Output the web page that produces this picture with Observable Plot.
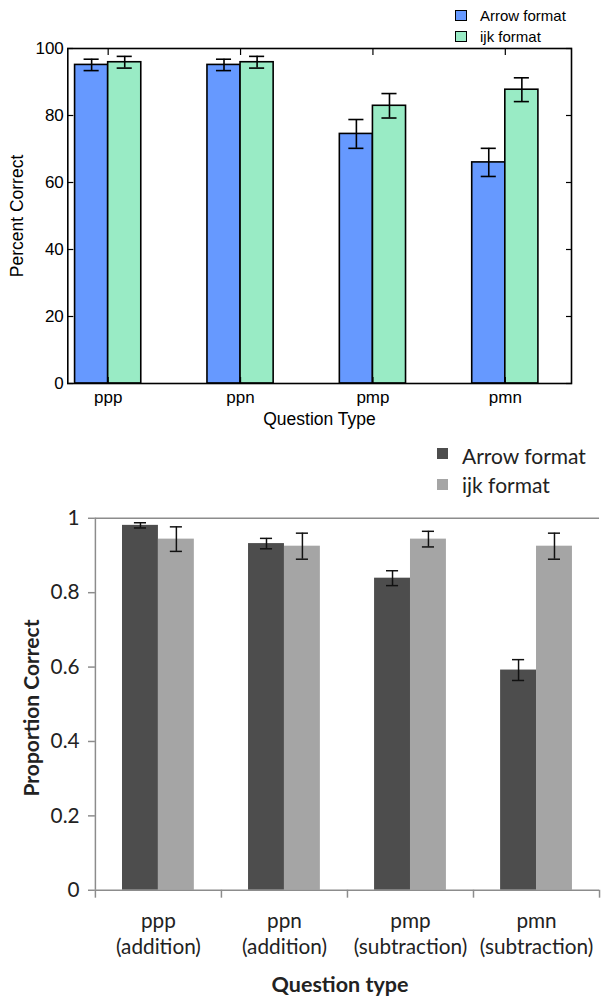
<!DOCTYPE html>
<html>
<head>
<meta charset="utf-8">
<script src="https://cdn.jsdelivr.net/npm/d3@7"></script>
<script src="https://cdn.jsdelivr.net/npm/@observablehq/plot@0.6"></script>
<style>
  html, body { margin: 0; padding: 0; background: #fff; overflow: hidden; }
  #page { position: relative; width: 603px; height: 996px; overflow: hidden; background: #fff; }
  .abs { position: absolute; white-space: nowrap; line-height: 1; }
  .c { transform: translate(-50%, -50%); }
  .lm { transform: translate(0, -50%); }
  .sw { position: absolute; box-sizing: border-box; }
  .t1 { font-family: "Liberation Sans", Arial, sans-serif; color: #000; }
  .t2 { font-family: Lato, "Open Sans", sans-serif; color: #222; }
</style>
</head>
<body>
<div id="page">
  <div id="topChart" style="position:absolute;left:0;top:0"></div>
  <div id="bottomChart" style="position:absolute;left:0;top:440px"></div>
</div>
<script>
// ---------- Data: top chart (Percent Correct) ----------
const topCategories = ["ppp", "ppn", "pmp", "pmn"];
const topSeries = ["Arrow format", "ijk format"];
const topArrow = [95.1, 95.1, 74.5, 66.0];
const topArrowErr = [1.7, 1.7, 4.3, 4.2];
const topIjk = [95.9, 95.9, 82.9, 87.7];
const topIjkErr = [1.75, 1.75, 3.65, 3.55];
const topYTicks = [0, 20, 40, 60, 80, 100];
const topXLabel = "Question Type";
const topYLabel = "Percent Correct";

// ---------- Data: bottom chart (Proportion Correct) ----------
const bottomCategories = ["ppp", "ppn", "pmp", "pmn"];
const bottomOperations = ["(addition)", "(addition)", "(subtraction)", "(subtraction)"];
const bottomSeries = ["Arrow format", "ijk format"];
const bottomArrow = [0.981, 0.932, 0.839, 0.592];
const bottomArrowErr = [0.007, 0.014, 0.020, 0.028];
const bottomIjk = [0.944, 0.925, 0.944, 0.925];
const bottomIjkErr = [0.033, 0.035, 0.021, 0.035];
const bottomYTicks = [0, 0.2, 0.4, 0.6, 0.8, 1];
const bottomXLabel = "Question type";
const bottomYLabel = "Proportion Correct";

// ---------- Styles ----------
const topColors = ["#6699ff", "#99ebc5"];
const bottomColors = ["#4d4d4d", "#a5a5a5"];
const gray = "#8c8c8c";

function makeRows(cats, a, ae, b, be, series, w) {
  const out = [];
  cats.forEach((c, i) => {
    out.push({i, series: series[0], value: a[i], err: ae[i], x1: i - w, x2: i, xc: i - w / 2});
    out.push({i, series: series[1], value: b[i], err: be[i], x1: i, x2: i + w, xc: i + w / 2});
  });
  return out;
}

// ---------- Top chart ----------
const tw = 0.25, tcap = 0.057;
const tRows = makeRows(topCategories, topArrow, topArrowErr, topIjk, topIjkErr, topSeries, tw);
const topIdx = topCategories.map((d, i) => i);

const topPlot = Plot.plot({
  width: 603, height: 440,
  marginLeft: 67.3, marginRight: 32, marginTop: 48, marginBottom: 57,
  x: {domain: [-0.305, 3.5]},
  y: {domain: [0, 100]},
  color: {domain: topSeries, range: topColors},
  style: {fontFamily: "'Liberation Sans', Arial, sans-serif", fontSize: "17px", color: "#000", background: "transparent", overflow: "visible"},
  marks: [
    Plot.rect(tRows, {x1: "x1", x2: "x2", y1: 0, y2: "value", fill: "series", stroke: "#000", strokeWidth: 1.6}),
    Plot.ruleX(tRows, {x: "xc", y1: d => d.value - d.err, y2: d => d.value + d.err, stroke: "#000", strokeWidth: 1.6}),
    Plot.ruleY(tRows, {x1: d => d.xc - tcap, x2: d => d.xc + tcap, y: d => d.value + d.err, stroke: "#000", strokeWidth: 1.6}),
    Plot.ruleY(tRows, {x1: d => d.xc - tcap, x2: d => d.xc + tcap, y: d => d.value - d.err, stroke: "#000", strokeWidth: 1.6}),
    Plot.frame({stroke: "#000", strokeWidth: 1.6}),
    Plot.axisY({anchor: "left", ticks: topYTicks, tickSize: -6, tickPadding: 10, strokeWidth: 1.2, label: null}),
    Plot.axisY({anchor: "right", ticks: topYTicks, tickSize: -6, strokeWidth: 1.2, tickFormat: () => "", label: null}),
    Plot.axisX({anchor: "bottom", ticks: topIdx, tickSize: -6, tickPadding: 13, strokeWidth: 1.2, tickFormat: i => topCategories[i], label: null}),
    Plot.axisX({anchor: "top", ticks: topIdx, tickSize: -6, strokeWidth: 1.2, tickFormat: () => "", label: null})
  ]
});
document.getElementById("topChart").append(topPlot);

// ---------- Bottom chart ----------
const bw = 0.285, bcap = 0.048;
const bRows = makeRows(bottomCategories, bottomArrow, bottomArrowErr, bottomIjk, bottomIjkErr, bottomSeries, bw);
const bottomIdx = bottomCategories.map((d, i) => i);
const bottomBounds = [-0.5, ...bottomIdx.map(i => i + 0.5)];

const bottomPlot = Plot.plot({
  width: 610, height: 556,
  marginLeft: 96, marginRight: 4, marginTop: 78.7, marginBottom: 101,
  x: {domain: [-0.5, 3.5]},
  y: {domain: [0, 1]},
  color: {domain: bottomSeries, range: bottomColors},
  style: {fontFamily: "Lato, 'Open Sans', sans-serif", fontSize: "21px", color: "#222", background: "transparent", overflow: "visible"},
  marks: [
    Plot.ruleY([1], {stroke: gray, strokeWidth: 1.5}),
    Plot.rect(bRows, {x1: "x1", x2: "x2", y1: 0, y2: "value", fill: "series"}),
    Plot.ruleX(bRows, {x: "xc", y1: d => d.value - d.err, y2: d => d.value + d.err, stroke: "#111", strokeWidth: 1.5}),
    Plot.ruleY(bRows, {x1: d => d.xc - bcap, x2: d => d.xc + bcap, y: d => d.value + d.err, stroke: "#111", strokeWidth: 1.5}),
    Plot.ruleY(bRows, {x1: d => d.xc - bcap, x2: d => d.xc + bcap, y: d => d.value - d.err, stroke: "#111", strokeWidth: 1.5}),
    Plot.ruleX([-0.5], {stroke: gray, strokeWidth: 1.5}),
    Plot.ruleY([0], {stroke: gray, strokeWidth: 1.5}),
    Plot.axisY({anchor: "left", ticks: bottomYTicks, tickSize: 7, tickPadding: 9, stroke: gray, fill: "#222", strokeWidth: 1.5, tickFormat: d => String(d), label: null}),
    Plot.axisX({anchor: "bottom", ticks: bottomBounds, tickSize: 8, stroke: gray, strokeWidth: 1.5, tickFormat: () => "", label: null}),
    Plot.axisX({anchor: "bottom", ticks: bottomIdx, tickSize: 0, tickPadding: 20, lineHeight: 1.25, fill: "#222", tickFormat: i => bottomCategories[i] + "\n" + bottomOperations[i], label: null})
  ]
});
document.getElementById("bottomChart").append(bottomPlot);

// ---------- HTML titles and legends ----------
const page = document.getElementById("page");
function addText(txt, cls, css) {
  const d = document.createElement("div");
  d.className = "abs " + cls;
  d.textContent = txt;
  Object.assign(d.style, css);
  page.append(d);
}
function addSwatch(css) {
  const d = document.createElement("div");
  d.className = "sw";
  Object.assign(d.style, css);
  page.append(d);
}

// top titles
addText(topXLabel, "t1 c", {left: "319.5px", top: "420px", fontSize: "17.5px"});
addText(topYLabel, "t1", {left: "17.5px", top: "216px", fontSize: "17.5px", transform: "translate(-50%, -50%) rotate(-90deg)"});
// top legend
topSeries.forEach((s, k) => {
  addSwatch({left: "455px", top: (10 + 21 * k) + "px", width: "12px", height: "11px", background: topColors[k], border: "1.5px solid #000"});
  addText(s, "t1 lm", {left: "480px", top: (15 + 21 * k) + "px", fontSize: "15px"});
});

// bottom titles
addText(bottomXLabel, "t2 c", {left: "340px", top: "985px", fontSize: "21.5px", fontWeight: "700"});
addText(bottomYLabel, "t2", {left: "30px", top: "708px", fontSize: "21px", fontWeight: "700", transform: "translate(-50%, -50%) rotate(-90deg)"});
// bottom legend
bottomSeries.forEach((s, k) => {
  addSwatch({left: "437px", top: (448 + 31 * k) + "px", width: "11px", height: "11px", background: bottomColors[k]});
  addText(s, "t2 lm", {left: "462px", top: (455 + 29 * k) + "px", fontSize: "21px"});
});
</script>
</body>
</html>
